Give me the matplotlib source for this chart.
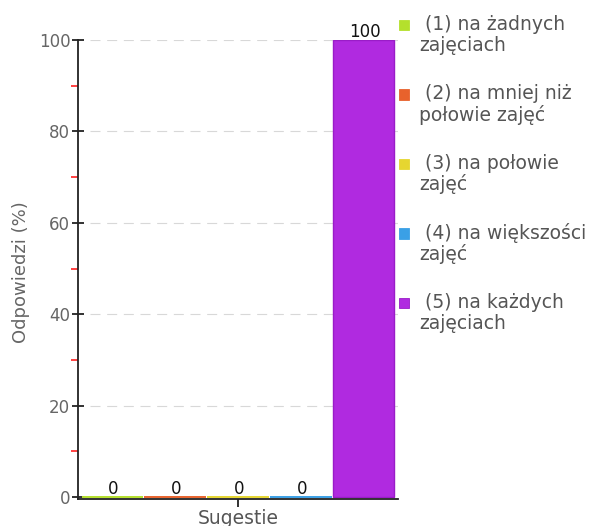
import matplotlib
matplotlib.use("Agg")
import matplotlib.pyplot as plt
from matplotlib.patches import Rectangle
import numpy as np

# ---- data ----
category = "Sugestie"
series_labels = [" (1) na żadnych\nzajęciach",
                 " (2) na mniej niż\npołowie zajęć",
                 " (3) na połowie\nzajęć",
                 " (4) na większości\nzajęć",
                 " (5) na każdych\nzajęciach"]
values = [0, 0, 0, 0, 100]
colors = ["#b4e02c", "#e8622c", "#e6d630", "#3aa0e6", "#b02ae0"]
edge_colors = ["#b4e02c", "#e8622c", "#e6d630", "#3aa0e6", "#9a1cc8"]
y_major = [0, 20, 40, 60, 80, 100]
y_minor = [10, 30, 50, 70, 90]
y_label = "Odpowiedzi (%)"

W, H = 603, 526
fig = plt.figure(figsize=(W / 100, H / 100), dpi=100)
plt.rcParams['font.family'] = ['DejaVu Sans']

# axes box in pixels
left_px, right_px, top_px, bottom_px = 78, 398, 40, 499.3
ax = fig.add_axes([left_px / W, 1 - bottom_px / H,
                   (right_px - left_px) / W, (bottom_px - top_px) / H])
ax.set_xlim(-0.5, 0.5)
ax.set_ylim(-0.5, 100)

n = len(values)
step = 0.196
width = 0.193
xs = (np.arange(n) - (n - 1) / 2) * step
for i, (x, v) in enumerate(zip(xs, values)):
    ax.bar(x, v, width=width, color=colors[i], edgecolor=edge_colors[i],
           linewidth=1.4 if v == 0 else 1.0, zorder=2)
    ax.annotate(f"{v}", (x, v), xytext=(1, 3), textcoords="offset pixels",
                ha="center", va="baseline", fontsize=12, color="#111111",
                zorder=4)

# grid lines (dashed, start slightly right of axis)
for yv in y_major[1:]:
    ax.axhline(yv, xmin=12 / 320, xmax=1, color="#d8d8d8", linewidth=0.8,
               dashes=(9, 6), zorder=1)

for s in ["top", "right"]:
    ax.spines[s].set_visible(False)
for s in ["left", "bottom"]:
    ax.spines[s].set_color("#222222")
    ax.spines[s].set_linewidth(1.3)
    ax.spines[s].set_zorder(3)

ax.set_yticks(y_major)
ax.set_yticks(y_minor, minor=True)
ax.tick_params(axis="y", which="major", direction="inout", length=9,
               width=1.3, color="#222222", labelsize=12, labelcolor="#666666",
               pad=1)
ax.tick_params(axis="y", which="minor", direction="out", length=5,
               width=1.2, color="#ff2020")
ax.set_xticks([0])
ax.set_xticklabels([""])
ax.tick_params(axis="x", which="major", direction="out", length=6,
               width=1.3, color="#222222")

fig.text(21 / W, 1 - 272 / H, y_label, rotation=90, ha="center", va="center",
         fontsize=13, color="#666666")
fig.text(238 / W, 1 - 518 / H, category, ha="center", va="center",
         fontsize=13.5, color="#555555")

# legend (manual)
sq = 10
for i, lab in enumerate(series_labels):
    cy = 25 + i * 69.5
    fig.add_artist(Rectangle(((398.5) / W, 1 - (cy + sq / 2) / H), sq / W, sq / H,
                             transform=fig.transFigure, facecolor=colors[i],
                             edgecolor=edge_colors[i], linewidth=0.6))
    fig.text(419 / W, 1 - (cy + 10) / H, lab, ha="left", va="center",
             fontsize=13.5, color="#555555", linespacing=1.07)

fig.savefig("out.png", dpi=100)
